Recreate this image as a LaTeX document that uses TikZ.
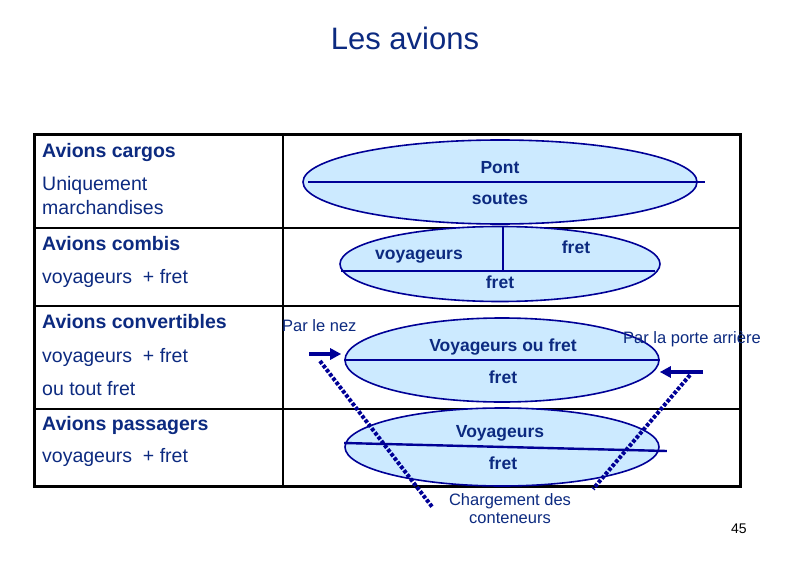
\documentclass[tikz,border=0pt]{standalone}
\usepackage{fontspec}
\setmainfont{Liberation Sans}
\usetikzlibrary{positioning,arrows.meta,shapes.geometric}
\definecolor{navytext}{RGB}{12,42,128}
\definecolor{navyline}{RGB}{0,0,150}
\definecolor{hull}{RGB}{204,234,255}

\begin{document}
\begin{tikzpicture}[
  x=1pt, y=-1pt,
  >={Triangle[length=11pt,width=11pt]},
  hold/.style   ={ellipse, draw=navyline, fill=hull, line width=1.6pt, inner sep=0pt},
  deck/.style   ={navyline, line width=2.4pt},
  cat/.style    ={anchor=base west, text=navytext, inner sep=0pt,
                  font=\fontsize{19.5}{22}\selectfont\bfseries},
  desc/.style   ={anchor=base west, text=navytext, inner sep=0pt,
                  font=\fontsize{19.5}{22}\selectfont},
  lbl/.style    ={anchor=base, text=navytext, inner sep=0pt,
                  font=\fontsize{17.5}{20}\selectfont\bfseries},
  note/.style   ={text=navytext, inner sep=0pt, font=\fontsize{16.5}{18}\selectfont},
  loadarrow/.style={->, navyline, line width=3.5pt},
  ramp/.style   ={navyline, line width=4pt, dash pattern=on 3.5pt off 1.8pt}
]
\useasboundingbox (0,0) rectangle (794,567);

% --- title ---
\node[anchor=base, text=navytext, inner sep=0pt, font=\fontsize{31}{36}\selectfont]
  (title) at (405,50) {Les avions};

% --- table frame ---
\draw[line width=2pt] (34,228) -- (740,228);
\draw[line width=2pt] (34,306) -- (740,306);
\draw[line width=2pt] (34,409) -- (740,409);
\draw[line width=2pt] (283,134) -- (283,486);
\draw[line width=3pt] (34,134) rectangle (740,486);

% --- left column ---
\node[cat]  (cargo-t)  at (42,157) {Avions cargos};
\node[desc] (cargo-d1) at (42,190) {Uniquement};
\node[desc] (cargo-d2) at (42,214) {marchandises};
\node[cat]  (combi-t)  at (42,250) {Avions combis};
\node[desc] (combi-d)  at (42,283) {voyageurs\ \ + fret};
\node[cat]  (conv-t)   at (42,328) {Avions convertibles};
\node[desc] (conv-d1)  at (42,362) {voyageurs\ \ + fret};
\node[desc] (conv-d2)  at (42,395) {ou tout fret};
\node[cat]  (pass-t)   at (42,430) {Avions passagers};
\node[desc] (pass-d)   at (42,462) {voyageurs\ \ + fret};

% --- cargo: pont / soutes ---
\node[hold, minimum width=394pt, minimum height=84pt] (cargo) at (500,182) {};
\draw[deck] ([xshift=6pt]cargo.west) -- ([xshift=7pt]cargo.east);
\node[lbl] (pont)   at (500,173) {Pont};
\node[lbl] (soutes) at (500,204) {soutes};

% --- combi: voyageurs | fret / fret ---
\node[hold, minimum width=320pt, minimum height=75pt] (combi) at (500,264) {};
\coordinate (split) at (503,271);
\draw[deck] ([xshift=2pt,yshift=-7pt]combi.west) -- ([xshift=-6pt,yshift=-7pt]combi.east);
\draw[deck] (split) -- (split |- combi.north);
\node[lbl] (combi-v)  at (419,259) {voyageurs};
\node[lbl] (combi-f1) at (576,253) {fret};
\node[lbl] (combi-f2) at (500,288) {fret};

% --- convertible ---
\node[hold, minimum width=314pt, minimum height=84pt] (conv) at (502,360) {};
\draw[deck] (conv.west) -- (conv.east);
\node[lbl] (conv-v) at (503,351) {Voyageurs ou fret};
\node[lbl] (conv-f) at (503,383) {fret};

% --- passagers ---
\node[hold, minimum width=314pt, minimum height=78pt] (pass) at (502,447) {};
\draw[deck] ([yshift=4pt]pass.west) -- ([xshift=7pt,yshift=-4pt]pass.east);
\node[lbl] (pass-v) at (500,437) {Voyageurs};
\node[lbl] (pass-f) at (503,469) {fret};

% --- loading doors ---
\node[note, anchor=base west] (nez-l)   at (282,331) {Par le nez};
\node[note, anchor=base west] (porte-l) at (623,343) {Par la porte arri\`ere};
\coordinate (nez)   at (309,354);
\coordinate (porte) at (703,372);
\draw[loadarrow, shorten >=3pt] (nez) -- (conv.west |- nez);
\draw[loadarrow] (porte) -- (conv.east |- porte);

% --- container loading ---
\coordinate (ramp-l1) at (320,361);
\coordinate (ramp-l2) at (433,508);
\coordinate (ramp-r1) at (690,375);
\coordinate (ramp-r2) at (593,489);
\draw[ramp] (ramp-l1) -- (ramp-l2);
\draw[ramp] (ramp-r1) -- (ramp-r2);
\node[note, anchor=north, align=center] (chargement) at (510,493)
  {Chargement des\\conteneurs};

% --- page number ---
\node[anchor=base west, inner sep=0pt, font=\fontsize{14}{16}\selectfont] (page) at (731,533) {45};

\end{tikzpicture}
\end{document}
